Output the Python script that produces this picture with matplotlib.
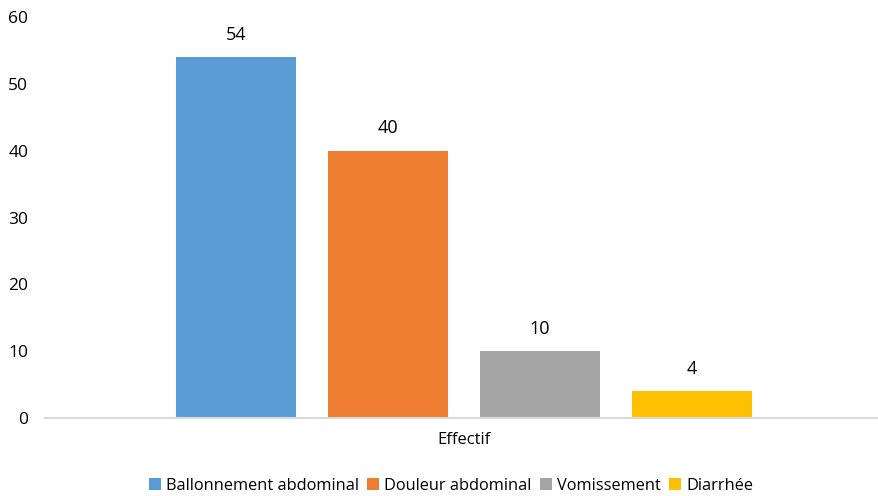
import matplotlib.pyplot as plt
import numpy as np

plt.rcParams['font.family'] = ['Open Sans', 'DejaVu Sans']

categories = ['Ballonnement abdominal', 'Douleur abdominal', 'Vomissement', 'Diarrhée']
values = [54, 40, 10, 4]
colors = ['#5B9BD5', '#ED7D31', '#A5A5A5', '#FFC000']
group_label = 'Effectif'

fig = plt.figure(figsize=(8.79, 4.96), dpi=100)
ax = fig.add_axes([45 / 879, 78 / 496, 834 / 879, 401 / 496])

x = np.arange(len(values))
for xi, v, c, lab in zip(x, values, colors, categories):
    ax.bar(xi, v, width=0.79, color=c, label=lab, zorder=2)
    ax.text(xi, v + 2.0, str(v), ha='center', va='bottom', fontsize=13, color='#000000')

ax.set_xlim(-1.257, 4.23)
ax.set_ylim(0, 60)
ax.set_yticks(range(0, 61, 10))
ax.tick_params(axis='y', length=0, labelsize=12.5, pad=12)
ax.set_xticks([1.5])
ax.set_xticklabels([group_label], fontsize=12)
ax.tick_params(axis='x', length=0, pad=10)

for s in ['top', 'right', 'left']:
    ax.spines[s].set_visible(False)
ax.spines['bottom'].set_color('#D9D9D9')
ax.spines['bottom'].set_linewidth(1.5)

fig.legend(loc='center', bbox_to_anchor=(451 / 879, 1 - 486 / 496), ncol=4, frameon=False,
           fontsize=11.8, handlelength=0.75, handleheight=0.75, handletextpad=0.3,
           columnspacing=0.5)

fig.savefig('out.png', dpi=100)
